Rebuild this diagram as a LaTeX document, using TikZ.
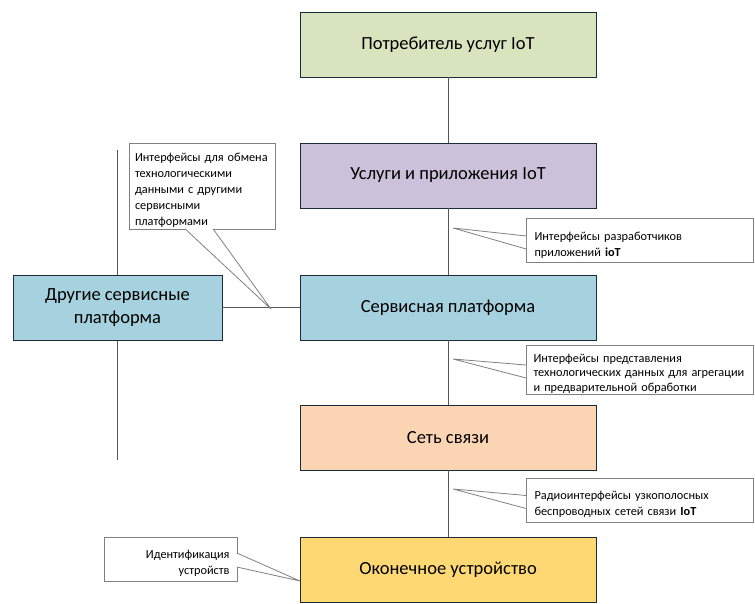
\documentclass[tikz,border=0pt]{standalone}
\usepackage{fontspec}
\setmainfont{Carlito}
\usetikzlibrary{positioning,calc}

\definecolor{boxline}{HTML}{1C2B39}
\definecolor{linkgray}{HTML}{555555}
\definecolor{noteline}{HTML}{808080}
\definecolor{usergreen}{HTML}{D7E4BD}
\definecolor{appviolet}{HTML}{CCC1DA}
\definecolor{platblue}{HTML}{A6D1DE}
\definecolor{netorange}{HTML}{FBD4B4}
\definecolor{devyellow}{HTML}{FED973}

\begin{document}
\begin{tikzpicture}[x=1pt,y=-1pt,
  layer/.style={draw=boxline,line width=0.9pt,minimum width=296pt,minimum height=65pt,
    inner sep=0pt,align=center,font=\fontsize{18.5}{22.5}\selectfont},
  note/.style={draw=noteline,fill=white,line width=0.8pt,inner sep=0pt,
    font=\fontsize{12.3}{16}\selectfont,execute at begin node={\rule{0pt}{17pt}}},
  tail/.style={draw=noteline,fill=white,line width=0.8pt},
  link/.style={draw=linkgray,line width=0.8pt}]

\useasboundingbox (0,0) rectangle (755,604);

% Free ends and pointer tips
\coordinate (otop) at (117.5,150);
\coordinate (obot) at (117.5,460);
\coordinate (tipx) at (271,309);
\coordinate (tipdev) at (453,228);
\coordinate (tipdata) at (453,359);
\coordinate (tipradio) at (453,489);
\coordinate (tipid) at (300,581);

% Other platforms, behind its line
\draw[link] (otop) -- (obot);
\node[layer,fill=platblue,minimum width=209pt] (other) at (117.5,307.5) {Другие сервисные\\платформа};

% Main column
\node[layer,fill=usergreen]  (user)     at (448,44.5)  {Потребитель услуг IoT};
\node[layer,fill=appviolet]  (apps)     at (448,175.5) {Услуги и приложения IoT};
\node[layer,fill=platblue]   (platform) at (448,307.5) {Сервисная платформа};
\node[layer,fill=netorange]  (network)  at (448,437.5) {Сеть связи};
\node[layer,fill=devyellow]  (device)   at (448,569.5) {Оконечное устройство};

\draw[link] (user) -- (apps);
\draw[link] (apps) -- (platform);
\draw[link] (platform) -- (network);
\draw[link] (network) -- (device);
\draw[link] (other) -- (platform);

% Callouts
\node[note,minimum width=146pt,minimum height=86pt,text width=134pt,align=left] (xchg) at (202,186)
  {Интерфейсы для обмена\\технологическими\\данными с другими\\сервисными\\платформами};
\path[tail] ($(xchg.south)+(-17,-0.6)$) -- (tipx) -- ($(xchg.south)+(11,-0.6)$);

\node[note,minimum width=227pt,minimum height=44pt,text width=210pt,align=left] (devapi) at (639.5,240.5)
  {Интерфейсы разработчиков\\приложений \textbf{ioT}};
\path[tail] ($(devapi.west)+(0.6,-4.5)$) -- (tipdev) -- ($(devapi.west)+(0.6,8.5)$);

\node[note,minimum width=227pt,minimum height=49pt,text width=212pt,align=left,
  font=\fontsize{12.3}{14.5}\selectfont] (dataapi) at (639.5,369.5)
  {Интерфейсы представления\\технологических данных для агрегации\\и предварительной обработки};
\path[tail] ($(dataapi.west)+(0.6,-4.5)$) -- (tipdata) -- ($(dataapi.west)+(0.6,8.5)$);

\node[note,minimum width=227pt,minimum height=44pt,text width=210pt,align=left] (radio) at (639.5,500)
  {Радиоинтерфейсы узкополосных\\беспроводных сетей связи \textbf{IoT}};
\path[tail] ($(radio.west)+(0.6,-4.5)$) -- (tipradio) -- ($(radio.west)+(0.6,8.5)$);

\node[note,minimum width=133pt,minimum height=44pt,text width=118pt,align=right] (ident) at (170.5,559)
  {Идентификация\\устройств};
\path[tail] ($(ident.east)+(-0.6,-6)$) -- (tipid) -- ($(ident.east)+(-0.6,8)$);

\end{tikzpicture}
\end{document}
